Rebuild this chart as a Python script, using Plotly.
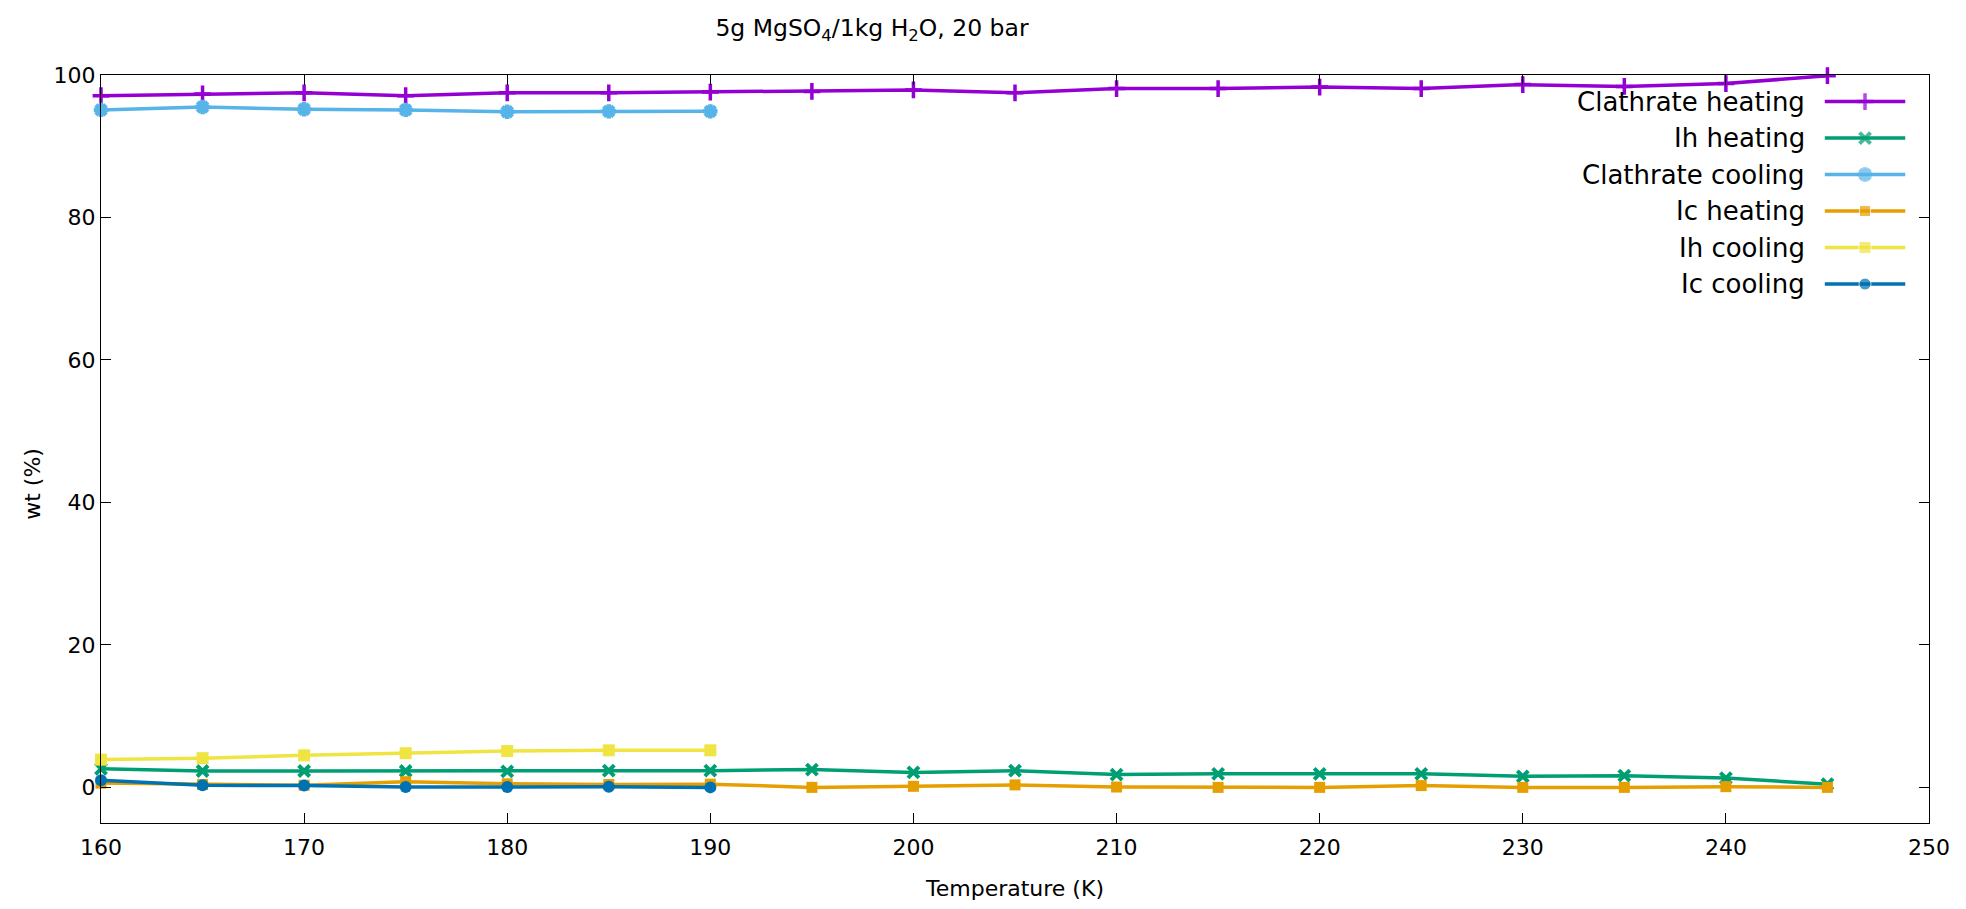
import plotly.graph_objects as go

# Temperatures (K)
temps_heating = [160, 165, 170, 175, 180, 185, 190, 195, 200, 205, 210, 215, 220, 225, 230, 235, 240, 245]
temps_cooling = [160, 165, 170, 175, 180, 185, 190]

# Phase fractions (wt %)
clathrate_heating = [97.1, 97.35, 97.5, 97.1, 97.5, 97.5, 97.6, 97.7, 97.9, 97.5, 98.1, 98.1, 98.3, 98.1, 98.65, 98.4, 98.8, 99.9]
ih_heating = [2.6, 2.3, 2.3, 2.3, 2.25, 2.35, 2.35, 2.5, 2.1, 2.35, 1.8, 1.9, 1.9, 1.9, 1.55, 1.65, 1.3, 0.45]
clathrate_cooling = [95.1, 95.5, 95.2, 95.1, 94.85, 94.9, 94.9]
ic_heating = [0.6, 0.4, 0.3, 0.8, 0.5, 0.4, 0.45, 0.0, 0.15, 0.35, 0.05, 0.0, 0.0, 0.25, 0.0, 0.0, 0.1, 0.0]
ih_cooling = [3.9, 4.1, 4.5, 4.8, 5.1, 5.2, 5.2]
ic_cooling = [1.0, 0.3, 0.25, 0.05, 0.05, 0.1, 0.0]

x_ticks = [160, 170, 180, 190, 200, 210, 220, 230, 240, 250]
y_ticks = [0, 20, 40, 60, 80, 100]

FONT = "DejaVu Sans"
LW = 3.5

series = [
    ("Clathrate heating", temps_heating, clathrate_heating, "#9400d3",
     dict(symbol="cross-thin", size=12, line=dict(width=3.5, color="#9400d3"))),
    ("Ih heating", temps_heating, ih_heating, "#009e73",
     dict(symbol="x-thin", size=11, line=dict(width=4, color="#009e73"))),
    ("Clathrate cooling", temps_cooling, clathrate_cooling, "#56b4e9",
     dict(symbol="asterisk", size=12, line=dict(width=4.5, color="#56b4e9"))),
    ("Ic heating", temps_heating, ic_heating, "#e69f00",
     dict(symbol="square", size=11, color="#e69f00")),
    ("Ih cooling", temps_cooling, ih_cooling, "#f0e442",
     dict(symbol="square", size=12, color="#f0e442")),
    ("Ic cooling", temps_cooling, ic_cooling, "#0072b2",
     dict(symbol="circle", size=12, color="#0072b2")),
]

fig = go.Figure()

for name, xs, ys, color, marker in series:
    fig.add_trace(go.Scatter(
        x=xs, y=ys, name=name, mode="lines+markers",
        line=dict(color=color, width=LW),
        marker=marker, showlegend=False, cliponaxis=False,
    ))

# Key in the top-right corner: right-aligned label followed by a line sample
row_top = 0.9645
row_step = 0.0488
for i, (name, xs, ys, color, marker) in enumerate(series):
    yk = row_top - i * row_step
    fig.add_trace(go.Scatter(
        x=[0.943, 0.965, 0.987], y=[yk, yk, yk],
        xaxis="x2", yaxis="y2", mode="lines+markers",
        line=dict(color=color, width=LW),
        marker=dict(marker, size=[0, marker["size"], 0]),
        showlegend=False, hoverinfo="skip", cliponaxis=False,
    ))
    fig.add_annotation(
        x=0.933, y=yk, xref="x2", yref="y2", text=name, showarrow=False,
        xanchor="right", yanchor="middle",
        font=dict(family=FONT, size=26, color="black"),
    )

# Vertical axis title
fig.add_annotation(
    x=0, y=0.4535, xref="paper", yref="paper", text="wt (%)", showarrow=False,
    textangle=-90, xanchor="center", yanchor="middle", xshift=-68,
    font=dict(family=FONT, size=22, color="black"),
)

axis_common = dict(
    showgrid=False, zeroline=False, showline=True, linecolor="black", linewidth=1.2,
    mirror="ticks", ticks="inside", ticklen=10, tickcolor="black", tickwidth=1.2,
    tickfont=dict(family=FONT, size=22, color="black"),
)

fig.update_layout(
    width=1966, height=909,
    margin=dict(l=101, r=37, t=75, b=82),
    paper_bgcolor="white", plot_bgcolor="white",
    title=dict(
        text="5g MgSO<sub>4</sub>/1kg H<sub>2</sub>O, 20 bar",
        x=872 / 1966, xanchor="center", xref="container",
        y=1 - 28 / 909, yanchor="middle", yref="container",
        font=dict(family=FONT, size=23.5, color="black"),
    ),
    xaxis=dict(
        axis_common, range=[160, 250], tickvals=x_ticks, ticklabelstandoff=4,
        title=dict(text="Temperature (K)", font=dict(family=FONT, size=22, color="black"), standoff=22),
    ),
    yaxis=dict(axis_common, range=[-5, 100], tickvals=y_ticks),
    xaxis2=dict(overlaying="x", range=[0, 1], visible=False, fixedrange=True),
    yaxis2=dict(overlaying="y", range=[0, 1], visible=False, fixedrange=True),
)

fig.write_html("out.html")
